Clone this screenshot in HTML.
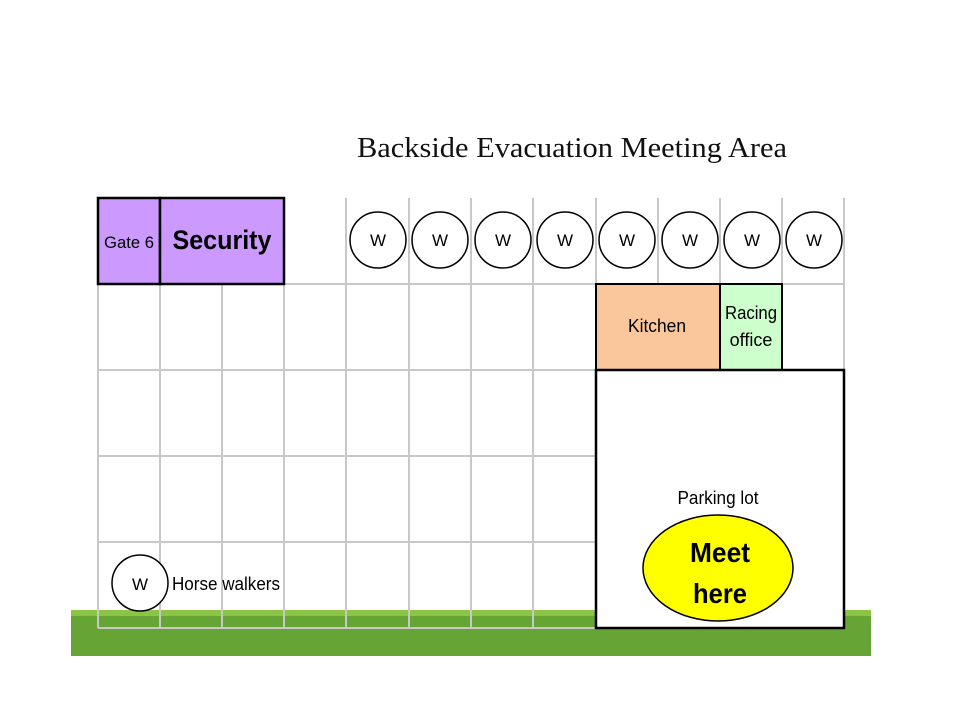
<!DOCTYPE html>
<html><head><meta charset="utf-8"><style>
body{margin:0;background:#fff;}
svg{display:block;font-family:"Liberation Sans",Arial,sans-serif;}
</style></head><body>
<svg width="960" height="720" viewBox="0 0 960 720">
<text x="572" y="157" text-anchor="middle" font-family="Liberation Serif,serif" font-size="29" fill="#111" textLength="430" lengthAdjust="spacingAndGlyphs">Backside Evacuation Meeting Area</text>
<rect x="71" y="610" width="800" height="46" fill="#66a535"/>
<rect x="71" y="610" width="800" height="6" fill="#8cc446"/>
<g id="grid" stroke="#c8c8c8" stroke-width="2" fill="none"></g>
<rect x="98" y="198" width="62" height="86" fill="#cc99ff" stroke="#000" stroke-width="2.5"/>
<text x="129" y="248" text-anchor="middle" font-size="17" textLength="50" lengthAdjust="spacingAndGlyphs">Gate 6</text>
<rect x="160" y="198" width="124" height="86" fill="#cc99ff" stroke="#000" stroke-width="2.5"/>
<text x="222" y="249" text-anchor="middle" font-size="27" font-weight="bold" textLength="99" lengthAdjust="spacingAndGlyphs">Security</text>
<rect x="596" y="284" width="124" height="86" fill="#fac79c" stroke="#000" stroke-width="2"/>
<text x="657" y="332" text-anchor="middle" font-size="18" textLength="58" lengthAdjust="spacingAndGlyphs">Kitchen</text>
<rect x="720" y="284" width="62" height="86" fill="#ccffcc" stroke="#000" stroke-width="2"/>
<text x="751" y="319" text-anchor="middle" font-size="18"><tspan x="751" textLength="52" lengthAdjust="spacingAndGlyphs">Racing</tspan><tspan x="751" dy="27">office</tspan></text>
<rect x="596" y="370" width="248" height="258" fill="#fff" stroke="#000" stroke-width="2.5"/>
<text x="718" y="504" text-anchor="middle" font-size="18" textLength="81" lengthAdjust="spacingAndGlyphs">Parking lot</text>
<ellipse cx="718" cy="568" rx="75" ry="53" fill="#ffff00" stroke="#000" stroke-width="1.5"/>
<text x="720" y="562" text-anchor="middle" font-size="28" font-weight="bold"><tspan x="720" textLength="60" lengthAdjust="spacingAndGlyphs">Meet</tspan><tspan x="720" dy="41" textLength="54" lengthAdjust="spacingAndGlyphs">here</tspan></text>
<g id="walkers"></g>
<circle cx="140" cy="583" r="28" fill="#fff" stroke="#000" stroke-width="1.5"/>
<text x="140" y="590" text-anchor="middle" font-size="17">W</text>
<text x="172" y="590" font-size="18" textLength="108" lengthAdjust="spacingAndGlyphs">Horse walkers</text>
</svg>
<script>
const NS="http://www.w3.org/2000/svg";
const cols=[98,160,222,284,346,409,471,533,596,658,720,782,844];
const rows=[198,284,370,456,542,628];
const g=document.getElementById('grid');
function ln(x1,y1,x2,y2){const l=document.createElementNS(NS,'line');l.setAttribute('x1',x1);l.setAttribute('y1',y1);l.setAttribute('x2',x2);l.setAttribute('y2',y2);


g.appendChild(l);}
cols.forEach(x=>ln(x,x>=346?198:284,x,628));
rows.slice(1).forEach(y=>ln(98,y,844,y));
const wx=[378,440,503,565,627,690,752,814];
const w=document.getElementById('walkers');
wx.forEach(x=>{const c=document.createElementNS(NS,'circle');c.setAttribute('cx',x);c.setAttribute('cy',240);c.setAttribute('r',28);c.setAttribute('fill','#fff');c.setAttribute('stroke','#000');c.setAttribute('stroke-width','1.5');


w.appendChild(c);
const t=document.createElementNS(NS,'text');t.setAttribute('x',x);t.setAttribute('y',246);t.setAttribute('text-anchor','middle');t.setAttribute('font-size','17');t.textContent='W';


w.appendChild(t);});
</script>
</body></html>
